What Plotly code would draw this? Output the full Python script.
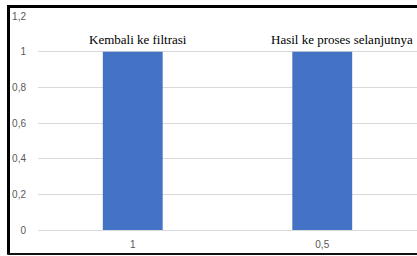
import plotly.graph_objects as go

categories = ["1", "0,5"]
values = [1, 1]
labels = ["Kembali ke filtrasi", "Hasil ke proses selanjutnya"]
ytick_vals = [0, 0.2, 0.4, 0.6, 0.8, 1.0, 1.2]
ytick_text = ["0", "0,2", "0,4", "0,6", "0,8", "1", "1,2"]

xpos = list(range(len(categories)))
label_shift = [5, 20]

fig = go.Figure()
fig.add_trace(go.Bar(x=xpos, y=values, marker=dict(color="#4472C4", line=dict(width=0)),
                     width=0.316, hoverinfo="skip"))

for p, t, s in zip(xpos, labels, label_shift):
    fig.add_annotation(x=p, y=1.071, xref="x", yref="y", text=t, showarrow=False,
                       xshift=s,
                       font=dict(family="Liberation Serif", size=13, color="#000000"),
                       yanchor="middle")

fig.add_shape(type="line", xref="paper", yref="paper", x0=-0.0778, x1=-0.0778, y0=-0.115, y1=1.05,
              line=dict(color="#000000", width=3), layer="above")
fig.add_shape(type="line", xref="paper", yref="paper", x0=-0.08, x1=1.03, y0=-0.112, y1=-0.112,
              line=dict(color="#111111", width=2), layer="above")

fig.update_layout(
    width=417, height=256,
    margin=dict(l=38, r=0, t=16, b=26),
    paper_bgcolor="white", plot_bgcolor="white",
    showlegend=False,
    xaxis=dict(range=[-0.5, 1.5], tickvals=xpos, ticktext=categories,
               showgrid=False, showline=False, zeroline=False,
               ticks="outside", ticklen=5, tickcolor="rgba(0,0,0,0)",
               tickfont=dict(family="Liberation Sans", size=10, color="#595959")),
    yaxis=dict(range=[0, 1.2], tickvals=ytick_vals, ticktext=ytick_text,
               showgrid=True, gridcolor="#d9d9d9", gridwidth=1,
               zeroline=True, zerolinecolor="#d9d9d9", zerolinewidth=1,
               showline=False, ticks="outside", ticklen=9, tickcolor="rgba(0,0,0,0)",
               tickfont=dict(family="Liberation Sans", size=10, color="#595959")),
)

post = (
    "document.documentElement.style.margin='0';"
    "document.body.style.margin='0';document.body.style.overflow='hidden';"
    "var f=document.createElement('div');"
    "f.style.cssText='position:fixed;left:7px;top:5px;width:440px;height:3px;"
    "background:#000;pointer-events:none;z-index:1000;';"
    "document.body.appendChild(f);"
)

fig.write_html("out.html", config={"displayModeBar": False}, post_script=post)
